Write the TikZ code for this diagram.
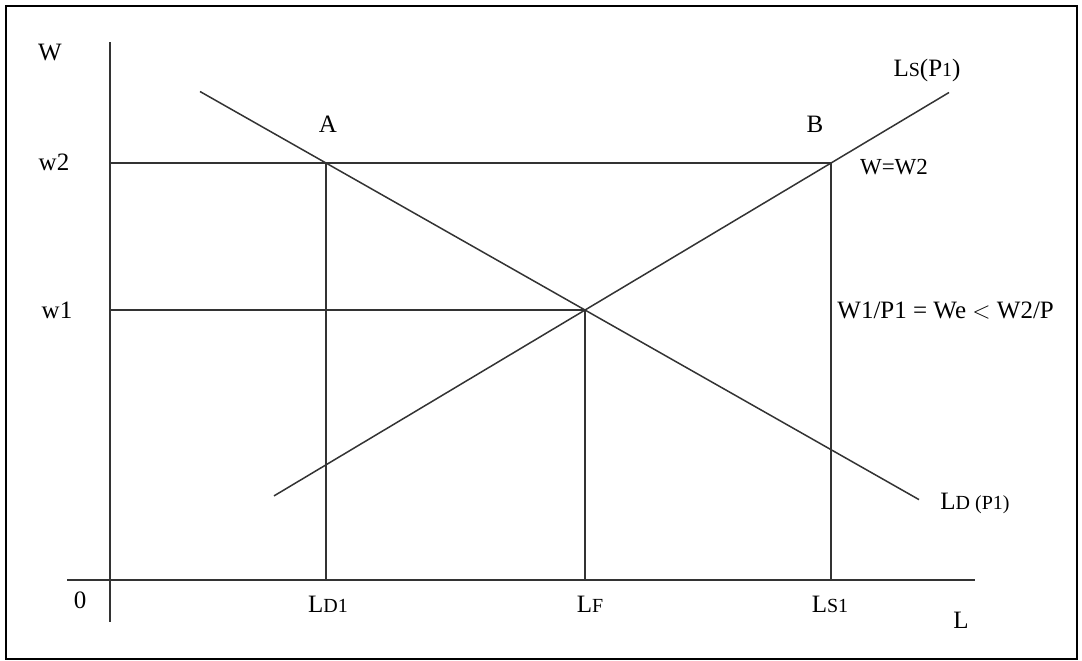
\documentclass[tikz,border=0pt]{standalone}
\usepackage{fontspec}
\setmainfont{Liberation Serif}
\newcommand{\smallpart}[1]{{\fontsize{10}{12}\selectfont #1}}
\begin{document}
\begin{tikzpicture}[x=0.5pt,y=-0.5pt,
  ln/.style={line width=0.75pt, draw=black!80},
  lbl/.style={font=\fontsize{12.5}{15}\selectfont, inner sep=0pt, text=black}]
\useasboundingbox (0,0) rectangle (1082,660);
\draw[line width=1pt] (5.5,5.5) rectangle (1077,658.5);
% coordinates
\coordinate (Ytop) at (110,42);
\coordinate (Ybot) at (110,622);
\coordinate (Xl) at (67,580);
\coordinate (Xr) at (975,580);
\coordinate (A) at (326,163);
\coordinate (B) at (831,163);
\coordinate (E) at (585,310);
\coordinate (w2y) at (110,163);
\coordinate (w1y) at (110,310);
\coordinate (LD1x) at (326,580);
\coordinate (LFx) at (585,580);
\coordinate (LS1x) at (831,580);
\coordinate (LDs) at (200,91.5);
\coordinate (LDe) at (919,499.6);
\coordinate (LSs) at (274,495.9);
\coordinate (LSe) at (949,92.5);
% axes
\draw[ln] (Ytop) -- (Ybot);
\draw[ln] (Xl) -- (Xr);
% guide lines
\draw[ln] (w2y) -- (B);
\draw[ln] (w1y) -- (E);
\draw[ln] (A) -- (LD1x);
\draw[ln] (E) -- (LFx);
\draw[ln] (B) -- (LS1x);
% curves
\draw[ln] (LDs) -- (LDe);
\draw[ln] (LSs) -- (LSe);
% labels
\node[lbl] (lW) at (50,52) {W};
\node[lbl] (lw2) at (54,162) {w2};
\node[lbl] (lw1) at (57,310) {w1};
\node[lbl] (lA) at (328,124) {A};
\node[lbl] (lB) at (815,124) {B};
\node[lbl] (lLS) at (927,70) {L\smallpart{S}(P\smallpart{1})};
\node[lbl] (lWW) at (894,167) {\fontsize{11.5}{14}\selectfont W=W2};
\node[lbl,anchor=west] (lWe) at (837,311) {W1/P1 = We $<$ W2/P};
\node[lbl] (lLD) at (975,503) {L\smallpart{D (P1)}};
\node[lbl] (l0) at (80,600) {0};
\node[lbl] (lLD1) at (328,604) {L\smallpart{D1}};
\node[lbl] (lLF) at (590,604) {L\smallpart{F}};
\node[lbl] (lLS1) at (830,604) {L\smallpart{S1}};
\node[lbl] (lL) at (961,620) {L};
\end{tikzpicture}
\end{document}
